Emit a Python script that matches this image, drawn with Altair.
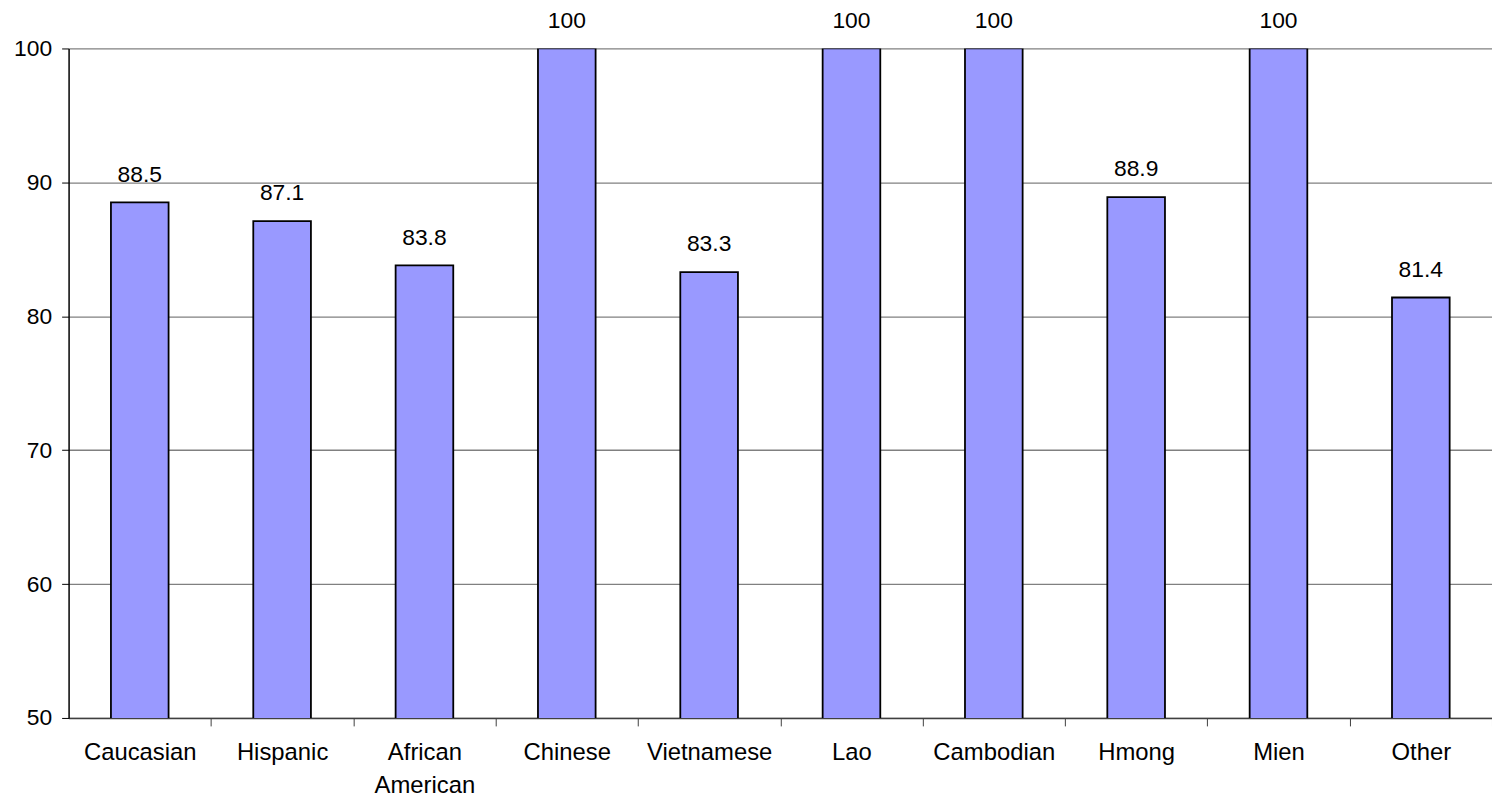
import altair as alt
import pandas as pd

categories = ["Caucasian", "Hispanic", "African American", "Chinese", "Vietnamese",
              "Lao", "Cambodian", "Hmong", "Mien", "Other"]
values = [88.5, 87.1, 83.8, 100, 83.3, 100, 100, 88.9, 100, 81.4]
value_labels = ["88.5", "87.1", "83.8", "100", "83.3", "100", "100", "88.9", "100", "81.4"]

df = pd.DataFrame({"cat": categories, "val": values, "lab": value_labels})

FONT = "Liberation Sans"
FS = 23
PLOT_W = 1433
STEP = PLOT_W / len(categories)

x = alt.X("cat:N", sort=categories, title=None,
          scale=alt.Scale(paddingInner=0.595, paddingOuter=0.2975),
          axis=alt.Axis(labelAngle=0, labelFontSize=FS + 1, labelFont=FONT, labelColor="black",
                        labelExpr="datum.value == 'African American' ? ['African', 'American'] : datum.value",
                        labelLineHeight=33, labelPadding=15, labelBaseline="top",
                        labelOverlap=False, labelBound=False,
                        tickOffset=STEP / 2, labelOffset=-STEP / 2,
                        tickSize=8, tickColor="#404040",
                        domainColor="#404040", domainWidth=1.5, grid=False))
y = alt.Y("val:Q", title=None,
          scale=alt.Scale(domain=[50, 100], nice=False, zero=False),
          axis=alt.Axis(values=[50, 60, 70, 80, 90, 100], labelFontSize=FS, labelFont=FONT,
                        labelColor="black", labelPadding=10, tickSize=7, tickColor="black",
                        domainColor="black", domainWidth=1.5,
                        grid=True, gridColor="#808080", gridWidth=1.3))

bars = alt.Chart(df).mark_bar(color="#9999FF", stroke="black", strokeWidth=1.8, clip=True).encode(x=x, y=y)
text = alt.Chart(df).mark_text(font=FONT, fontSize=FS, color="black", baseline="bottom", dy=-16).encode(
    x=alt.X("cat:N", sort=categories), y="val:Q", text="lab:N")

chart = (bars + text).properties(
    width=PLOT_W, height=674,
    autosize=alt.AutoSizeParams(type="none"),
    padding={"left": 61, "top": 38, "right": 0, "bottom": 100},
    background="white",
).configure_view(stroke=None)

chart.save("out.html", embed_options={"renderer": "svg", "actions": False})
